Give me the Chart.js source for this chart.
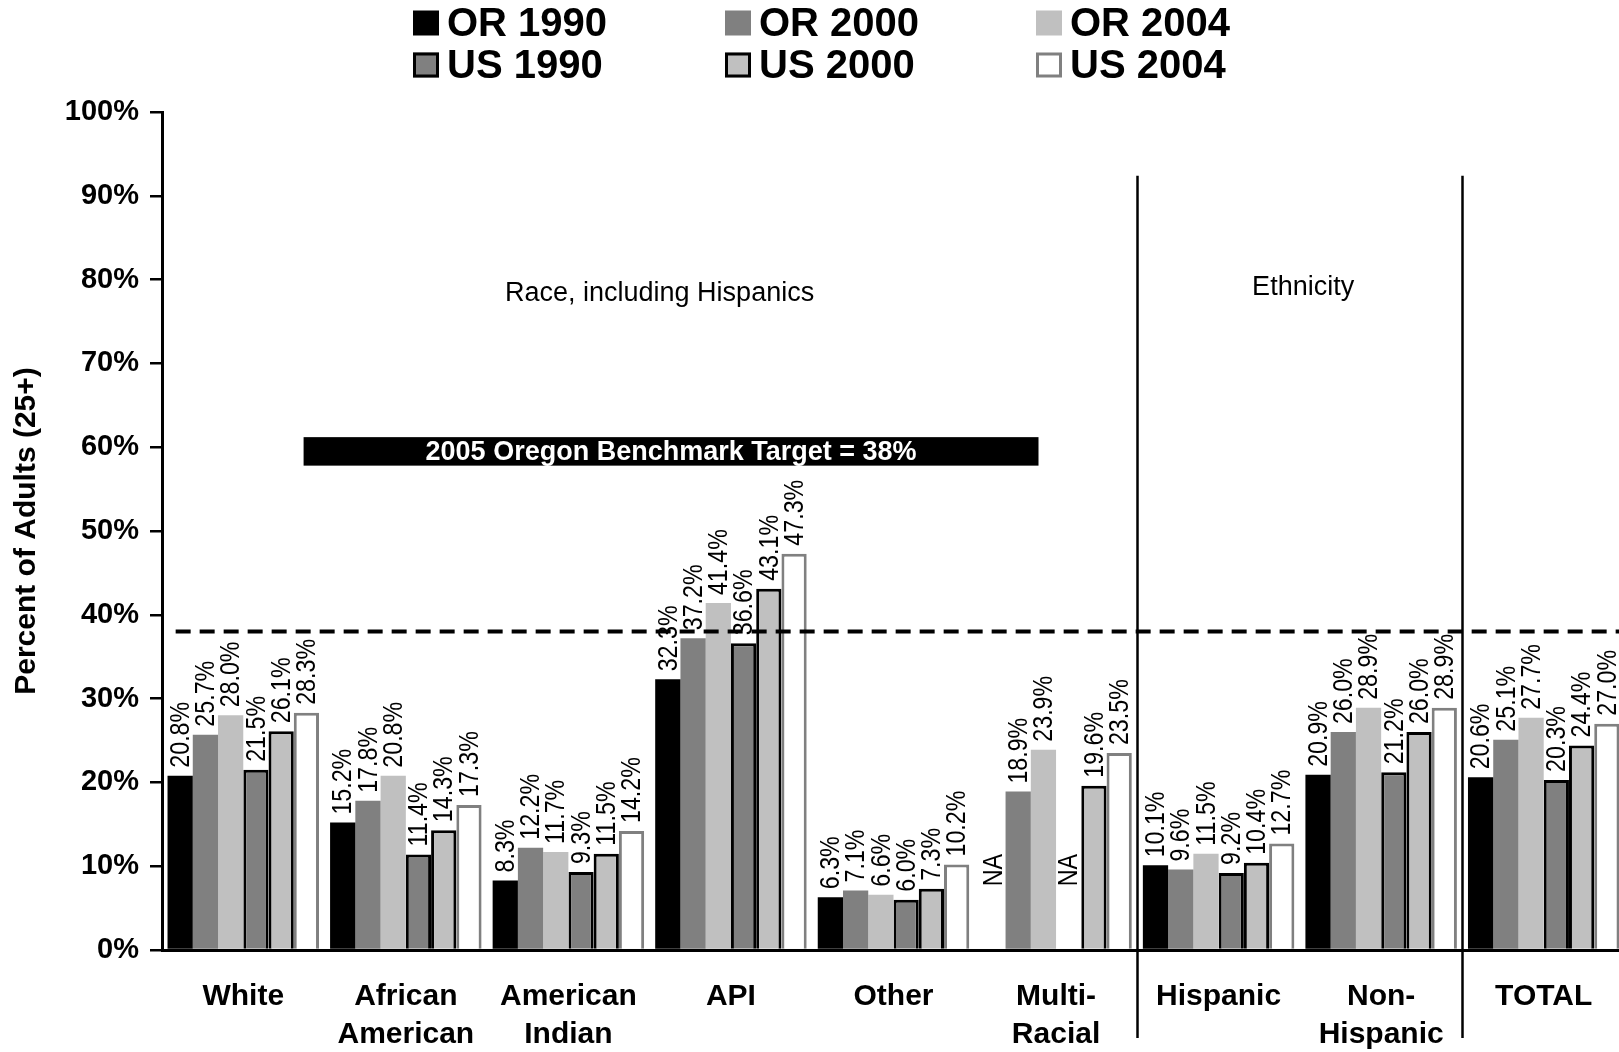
<!DOCTYPE html>
<html>
<head>
<meta charset="utf-8">
<title>Percent of Adults (25+) with a Bachelor's Degree or Higher</title>
<script src="https://cdn.jsdelivr.net/npm/chart.js@4/dist/chart.umd.min.js"></script>
<style>
  html, body { margin: 0; padding: 0; background: #fff; overflow: hidden; }
  canvas { display: block; }
</style>
</head>
<body>
<canvas id="chart" width="1630" height="1052"></canvas>
<script>
// Groups along the x axis (multi-line labels)
const categories = [
  ['White'], ['African', 'American'], ['American', 'Indian'], ['API'], ['Other'],
  ['Multi-', 'Racial'], ['Hispanic'], ['Non-', 'Hispanic'], ['TOTAL']
];

// Series names
const seriesNames = ['OR 1990', 'OR 2000', 'OR 2004', 'US 1990', 'US 2000', 'US 2004'];

// Percent of adults 25+ (null = not available)
const or1990 = [20.8, 15.2, 8.3, 32.3, 6.3, null, 10.1, 20.9, 20.6];
const or2000 = [25.7, 17.8, 12.2, 37.2, 7.1, 18.9, 9.6, 26.0, 25.1];
const or2004 = [28.0, 20.8, 11.7, 41.4, 6.6, 23.9, 11.5, 28.9, 27.7];
const us1990 = [21.5, 11.4, 9.3, 36.6, 6.0, null, 9.2, 21.2, 20.3];
const us2000 = [26.1, 14.3, 11.5, 43.1, 7.3, 19.6, 10.4, 26.0, 24.4];
const us2004 = [28.3, 17.3, 14.2, 47.3, 10.2, 23.5, 12.7, 28.9, 27.0];

// Y axis ticks
const yTicks = [0, 10, 20, 30, 40, 50, 60, 70, 80, 90, 100];

// Benchmark target and annotation texts
const benchmarkTarget = 38;
const benchmarkLabel = '2005 Oregon Benchmark Target = 38%';
const sectionLabels = ['Race, including Hispanics', 'Ethnicity'];
const missingLabel = 'NA';
const yTitle = 'Percent of Adults (25+)';

// ---- styling ----
const BLACK = '#000000', GRAY = '#808080', LIGHT = '#c0c0c0', WHITE = '#ffffff';
const seriesStyles = [
  { bg: BLACK, border: BLACK, bw: 0 },
  { bg: GRAY,  border: GRAY,  bw: 0 },
  { bg: LIGHT, border: LIGHT, bw: 0 },
  { bg: GRAY,  border: BLACK, bw: 3 },
  { bg: LIGHT, border: BLACK, bw: 3 },
  { bg: WHITE, border: GRAY,  bw: 3 }
];
const seriesValues = [or1990, or2000, or2004, us1990, us2000, us2004];

const SANS = '"Liberation Sans", Arial, Helvetica, sans-serif';

// Layout of annotations in scale units (x: category index, y: percent)
const NA_LEVEL = 7.6;           // where the "NA" markers start
const sectionDividers = [5.5, 7.5];
const dividerTop = 92.4;
const dividerBelowAxis = 88;    // px the dividers extend under the axis
const benchmarkBox = { x0: 0.371, x1: 4.892, y0: 57.8, y1: 61.2 };
const benchmarkLineStart = -0.416;
const sectionLabelPos = [ { x: 2.561, y: 78.3 }, { x: 6.52, y: 79.0 } ];

const datasets = seriesNames.map((name, i) => ({
  label: name,
  data: seriesValues[i],
  backgroundColor: seriesStyles[i].bg,
  borderColor: seriesStyles[i].border,
  borderWidth: seriesStyles[i].bw,
  borderSkipped: 'start',
  categoryPercentage: 0.932,
  barPercentage: 1.0
}));

// Value labels, benchmark line/box, section texts and dividers
const overlayPlugin = {
  id: 'overlay',
  afterDatasetsDraw(chart) {
    const { ctx, scales: { x, y } } = chart;

    // rotated value labels above each bar (condensed lettering)
    chart.data.datasets.forEach((ds, di) => {
      const meta = chart.getDatasetMeta(di);
      meta.data.forEach((bar, i) => {
        const v = ds.data[i];
        const missing = (v === null || v === undefined);
        const text = missing ? missingLabel : v.toFixed(1) + '%';
        const start = missing ? y.getPixelForValue(NA_LEVEL) : bar.y - 8;
        ctx.save();
        ctx.translate(bar.x, start);
        ctx.rotate(-Math.PI / 2);
        ctx.scale(0.83, 1);
        ctx.font = '28px ' + SANS;
        ctx.fillStyle = BLACK;
        ctx.textAlign = 'left';
        ctx.textBaseline = 'middle';
        ctx.fillText(text, 0, 1);
        ctx.restore();
      });
    });

    // dashed benchmark line
    ctx.save();
    const ly = y.getPixelForValue(benchmarkTarget);
    ctx.strokeStyle = BLACK;
    ctx.lineWidth = 4;
    ctx.setLineDash([15, 9]);
    ctx.beginPath();
    ctx.moveTo(x.getPixelForValue(benchmarkLineStart), ly);
    ctx.lineTo(chart.width, ly);
    ctx.stroke();
    ctx.restore();

    // benchmark box
    ctx.save();
    const bx0 = x.getPixelForValue(benchmarkBox.x0), bx1 = x.getPixelForValue(benchmarkBox.x1);
    const by0 = y.getPixelForValue(benchmarkBox.y1), by1 = y.getPixelForValue(benchmarkBox.y0);
    ctx.fillStyle = BLACK;
    ctx.fillRect(bx0, by0, bx1 - bx0, by1 - by0);
    ctx.fillStyle = WHITE;
    ctx.font = 'bold 27px ' + SANS;
    ctx.textAlign = 'center';
    ctx.textBaseline = 'middle';
    ctx.fillText(benchmarkLabel, (bx0 + bx1) / 2, (by0 + by1) / 2 + 1);
    ctx.restore();

    // section headings
    ctx.save();
    ctx.fillStyle = BLACK;
    ctx.font = '27px ' + SANS;
    ctx.textAlign = 'center';
    ctx.textBaseline = 'middle';
    sectionLabels.forEach((t, i) => {
      ctx.fillText(t, x.getPixelForValue(sectionLabelPos[i].x), y.getPixelForValue(sectionLabelPos[i].y));
    });
    ctx.restore();
  },
  afterDraw(chart) {
    const { ctx, chartArea, scales: { x, y } } = chart;
    // vertical section dividers
    ctx.save();
    ctx.strokeStyle = BLACK;
    ctx.lineWidth = 2.5;
    sectionDividers.forEach(d => {
      const px = Math.round(x.getPixelForValue(d)) + 0.5;
      ctx.beginPath();
      ctx.moveTo(px, y.getPixelForValue(dividerTop));
      ctx.lineTo(px, chartArea.bottom + dividerBelowAxis);
      ctx.stroke();
    });
    ctx.restore();
  }
};

// Two-row legend in three columns
const legendPlugin = {
  id: 'gridLegend',
  afterDraw(chart) {
    const { ctx } = chart;
    const colX = [413, 725, 1036];
    const rowY = [23, 65];
    const sw = 26, sh = 25;
    ctx.save();
    ctx.font = 'bold 40px ' + SANS;
    ctx.textAlign = 'left';
    ctx.textBaseline = 'middle';
    chart.data.datasets.forEach((ds, i) => {
      const cx = colX[i % 3], cy = rowY[Math.floor(i / 3)];
      const st = seriesStyles[i];
      ctx.fillStyle = st.bg;
      ctx.fillRect(cx, cy - sh / 2, sw, sh);
      if (st.bw) {
        ctx.strokeStyle = st.border;
        ctx.lineWidth = 3;
        ctx.strokeRect(cx + 1.5, cy - sh / 2 + 1.5, sw - 3, sh - 3);
      }
      ctx.fillStyle = BLACK;
      ctx.fillText(ds.label, cx + sw + 8, cy + 2);
    });
    ctx.restore();
  }
};

new Chart(document.getElementById('chart'), {
  type: 'bar',
  data: { labels: categories, datasets },
  options: {
    responsive: false,
    animation: false,
    devicePixelRatio: 1,
    layout: { padding: { top: 112, right: 5, bottom: 0, left: 0 } },
    plugins: {
      legend: { display: false },
      tooltip: { enabled: false },
      title: { display: false }
    },
    scales: {
      x: {
        grid: { display: false, drawTicks: false },
        border: { display: true, color: BLACK, width: 3 },
        ticks: {
          color: BLACK,
          padding: 28,
          maxRotation: 0,
          autoSkip: false,
          font: { family: SANS, size: 30, weight: 'bold', lineHeight: 1.27 }
        },
        afterFit(scale) { scale.height = 102; }
      },
      y: {
        min: 0,
        max: 100,
        afterBuildTicks(scale) { scale.ticks = yTicks.map(v => ({ value: v })); },
        grid: {
          display: true,
          drawOnChartArea: false,
          drawTicks: true,
          tickLength: 12,
          color: BLACK,
          lineWidth: 2.5
        },
        border: { display: true, color: BLACK, width: 3 },
        ticks: {
          color: BLACK,
          padding: 11,
          font: { family: SANS, size: 29, weight: 'bold' },
          callback: v => v + '%'
        },
        title: {
          display: true,
          text: yTitle,
          color: BLACK,
          padding: { top: 9, bottom: 0 },
          font: { family: SANS, size: 30, weight: 'bold' }
        },
        afterFit(scale) { scale.width = 162; }
      }
    }
  },
  plugins: [overlayPlugin, legendPlugin]
});
</script>
</body>
</html>
